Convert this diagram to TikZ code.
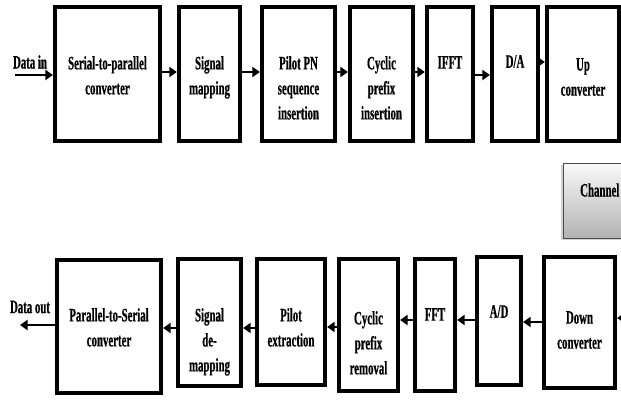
\documentclass[tikz,border=0pt]{standalone}
\usepackage{fontspec}
\setmainfont[FakeStretch=0.57, BoldFeatures={FakeBold=0.6}]{Liberation Serif}
\usetikzlibrary{arrows.meta,shadows}
\begin{document}
\begin{tikzpicture}[x=1pt,y=-1pt,
  blk/.style={draw=black, line width=4.2pt, fill=white, inner sep=0pt},
  txt/.style={inner sep=0pt, align=center, anchor=north,
    font=\bfseries\fontsize{19}{25}\selectfont},
  arr/.style={line width=2.6pt, -{Triangle[length=7.5pt,width=10pt]}},
  chan/.style={draw=gray!60!black, line width=0.8pt, top color=gray!5, bottom color=gray!60,
    drop shadow={shadow xshift=-2pt, shadow yshift=-2pt, fill=gray!70}}]
\useasboundingbox (0,0) rectangle (621,402);
\clip (0,0) rectangle (621,402);
% top row boxes
\node[blk, minimum width=105pt, minimum height=134pt] (s2p) at (107.5,74) {};
\node[blk, minimum width=61pt, minimum height=134pt] (map) at (209.5,74) {};
\node[blk, minimum width=73pt, minimum height=134pt] (pn) at (298.5,74) {};
\node[blk, minimum width=63pt, minimum height=134pt] (cpi) at (381.5,74) {};
\node[blk, minimum width=46pt, minimum height=134pt] (ifft) at (450,74) {};
\node[blk, minimum width=46pt, minimum height=134pt] (da) at (515,74) {};
\node[blk, minimum width=72pt, minimum height=134pt] (up) at (583,74) {};
\node[txt] (ts2p) at (107.5,56) {Serial-to-parallel\\converter};
\node[txt] (tmap) at (209.5,56) {Signal\\mapping};
\node[txt] (tpn) at (298.5,56) {Pilot PN\\sequence\\insertion};
\node[txt] (tcpi) at (381.5,56) {Cyclic\\prefix\\insertion};
\node[txt] (tifft) at (450,56) {IFFT};
\node[txt] (tda) at (515,55) {D/A};
\node[txt] (tup) at (583,58) {Up\\converter};
% channel
\node[chan, minimum width=80pt, minimum height=75pt, anchor=north west] (ch) at (563,163) {};
\node[txt, anchor=west] (tch) at (580,190) {Channel};
% bottom row boxes
\node[blk, minimum width=104pt, minimum height=133pt] (ps) at (109,326.5) {};
\node[blk, minimum width=63pt, minimum height=127pt] (demap) at (209.5,322.5) {};
\node[blk, minimum width=68pt, minimum height=126pt] (pe) at (291,322) {};
\node[blk, minimum width=59pt, minimum height=132pt] (cpr) at (368.5,325) {};
\node[blk, minimum width=40pt, minimum height=132pt] (fft) at (435,325) {};
\node[blk, minimum width=44pt, minimum height=128pt] (ad) at (499,321) {};
\node[blk, minimum width=71pt, minimum height=131pt] (down) at (579.5,322.5) {};
\node[txt] (tps) at (109,308) {Parallel-to-Serial\\converter};
\node[txt] (tdemap) at (209.5,308) {Signal\\de-\\mapping};
\node[txt] (tpe) at (291,308) {Pilot\\extraction};
\node[txt] (tcpr) at (368.5,311) {Cyclic\\prefix\\removal};
\node[txt] (tfft) at (435,308) {FFT};
\node[txt] (tad) at (499,305) {A/D};
\node[txt] (tdown) at (579.5,311) {Down\\converter};
% data labels
\node[txt, anchor=center] (din) at (30,62) {Data in};
\node[txt, anchor=center] (dout) at (30,307) {Data out};
\coordinate (inS) at (15,75);
\coordinate (outE) at (20,325);
\coordinate (chIn) at (640,318);
% top arrows
\draw[arr] (inS) -- (s2p.west |- inS);
\draw[arr] (s2p.east |- 0,72) -- (map.west |- 0,72);
\draw[arr] (map.east |- 0,72) -- (pn.west |- 0,72);
\draw[arr] (pn.east |- 0,72) -- (cpi.west |- 0,72);
\draw[arr] (cpi.east |- 0,72) -- (ifft.west |- 0,72);
\draw[arr] (ifft.east |- 0,75) -- (da.west |- 0,75);
\draw[arr] (da.east |- 0,62) -- (up.west |- 0,62);
% bottom arrows
\draw[arr] (chIn) -- (down.east |- chIn);
\draw[arr] (down.west |- 0,322) -- (ad.east |- 0,322);
\draw[arr] (ad.west |- 0,320) -- (fft.east |- 0,320);
\draw[arr] (fft.west |- 0,320) -- (cpr.east |- 0,320);
\draw[arr] (cpr.west |- 0,327) -- (pe.east |- 0,327);
\draw[arr] (pe.west |- 0,328) -- (demap.east |- 0,328);
\draw[arr] (demap.west |- 0,328) -- (ps.east |- 0,328);
\draw[arr] (ps.west |- outE) -- (outE);
\end{tikzpicture}
\end{document}
